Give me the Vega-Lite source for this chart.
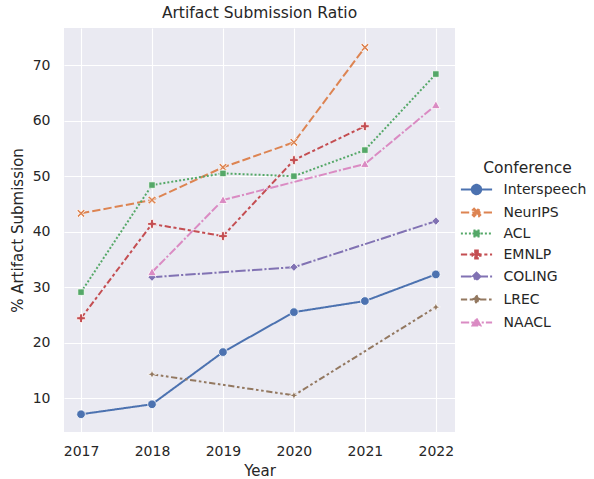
{
  "$schema": "https://vega.github.io/schema/vega-lite/v6.json",
  "width": 391,
  "height": 404,
  "autosize": "none",
  "padding": {"left": 64, "top": 28, "right": 139, "bottom": 47},
  "background": "white",
  "title": {"text": "Artifact Submission Ratio", "fontSize": 15.5, "fontWeight": "normal", "font": "DejaVu Sans", "color": "#262626", "offset": 7},
  "data": {"values": [
    {"Year": 2017, "Conference": "Interspeech", "Value": 7.1},
    {"Year": 2018, "Conference": "Interspeech", "Value": 8.9},
    {"Year": 2019, "Conference": "Interspeech", "Value": 18.3},
    {"Year": 2020, "Conference": "Interspeech", "Value": 25.5},
    {"Year": 2021, "Conference": "Interspeech", "Value": 27.5},
    {"Year": 2022, "Conference": "Interspeech", "Value": 32.3},
    {"Year": 2017, "Conference": "NeurIPS", "Value": 43.3},
    {"Year": 2018, "Conference": "NeurIPS", "Value": 45.7},
    {"Year": 2019, "Conference": "NeurIPS", "Value": 51.6},
    {"Year": 2020, "Conference": "NeurIPS", "Value": 56.1},
    {"Year": 2021, "Conference": "NeurIPS", "Value": 73.2},
    {"Year": 2017, "Conference": "ACL", "Value": 29.1},
    {"Year": 2018, "Conference": "ACL", "Value": 48.4},
    {"Year": 2019, "Conference": "ACL", "Value": 50.5},
    {"Year": 2020, "Conference": "ACL", "Value": 50.0},
    {"Year": 2021, "Conference": "ACL", "Value": 54.7},
    {"Year": 2022, "Conference": "ACL", "Value": 68.4},
    {"Year": 2017, "Conference": "EMNLP", "Value": 24.4},
    {"Year": 2018, "Conference": "EMNLP", "Value": 41.4},
    {"Year": 2019, "Conference": "EMNLP", "Value": 39.2},
    {"Year": 2020, "Conference": "EMNLP", "Value": 52.9},
    {"Year": 2021, "Conference": "EMNLP", "Value": 59.0},
    {"Year": 2018, "Conference": "COLING", "Value": 31.8},
    {"Year": 2020, "Conference": "COLING", "Value": 33.6},
    {"Year": 2022, "Conference": "COLING", "Value": 41.9},
    {"Year": 2018, "Conference": "LREC", "Value": 14.3},
    {"Year": 2020, "Conference": "LREC", "Value": 10.5},
    {"Year": 2022, "Conference": "LREC", "Value": 26.4},
    {"Year": 2018, "Conference": "NAACL", "Value": 32.7},
    {"Year": 2019, "Conference": "NAACL", "Value": 45.7},
    {"Year": 2021, "Conference": "NAACL", "Value": 52.2},
    {"Year": 2022, "Conference": "NAACL", "Value": 62.8}
  ]},
  "encoding": {
    "x": {"field": "Year", "type": "quantitative", "title": "Year",
      "scale": {"domain": [2016.76, 2022.27], "nice": false, "zero": false},
      "axis": {"values": [2017, 2018, 2019, 2020, 2021, 2022], "format": "d", "labelPadding": 12, "titlePadding": 5}},
    "y": {"field": "Value", "type": "quantitative", "title": "% Artifact Submission",
      "scale": {"domain": [3.9, 76.7], "nice": false, "zero": false},
      "axis": {"values": [10, 20, 30, 40, 50, 60, 70], "labelPadding": 14, "titlePadding": 7}},
    "color": {"field": "Conference", "type": "nominal", "title": "Conference",
      "scale": {"domain": ["Interspeech", "NeurIPS", "ACL", "EMNLP", "COLING", "LREC", "NAACL"],
                "range": ["#4c72b0", "#dd8452", "#55a868", "#c44e52", "#8172b3", "#937860", "#da8bc3"]},
      "legend": {
        "orient": "none", "legendX": 405.5, "legendY": 133,
        "symbolSize": 144, "labelOffset": 20, "rowPadding": 6, "titlePadding": 6, "titleAnchor": "middle",
        "encoding": {"symbols": {
          "shape": {"value": {"expr": "datum.value == 'Interspeech' ? 'M-2.6,0H2.6M-0.78,0A0.78,0.78,0,1,0,0.78,0A0.78,0.78,0,1,0,-0.78,0Z' : datum.value == 'NeurIPS' ? 'M-2.6,0H2.6M-0.62,-0.4L-0.4,-0.62L0,-0.22L0.4,-0.62L0.62,-0.4L0.22,0L0.62,0.4L0.4,0.62L0,0.22L-0.4,0.62L-0.62,0.4L-0.22,0Z' : datum.value == 'ACL' ? 'M-2.6,0H2.6M-0.5,-0.5H0.5V0.5H-0.5Z' : datum.value == 'EMNLP' ? 'M-2.6,0H2.6M-0.22,-0.66H0.22V-0.22H0.66V0.22H0.22V0.66H-0.22V0.22H-0.66V-0.22H-0.22Z' : datum.value == 'COLING' ? 'M-2.6,0H2.6M0,-0.66L0.66,0L0,0.66L-0.66,0Z' : datum.value == 'LREC' ? 'M-2.6,0H2.6M0,-0.72L0.2,-0.2L0.72,0L0.2,0.2L0,0.72L-0.2,0.2L-0.72,0L-0.2,-0.2Z' : 'M-2.6,0H2.6M0,-0.66L0.66,0.52L-0.66,0.52Z'"}},
          "strokeDash": {"value": {"expr": "datum.value == 'Interspeech' ? [1,0] : datum.value == 'NeurIPS' ? [8.3,3.1] : datum.value == 'ACL' ? [2,2] : datum.value == 'EMNLP' ? [6.25,2.6,3.1,2.6] : datum.value == 'COLING' ? [10.4,2.1,2.1,2.1] : datum.value == 'LREC' ? [6.25,2.6,2.6,2.6,2.6,2.6] : [8.3,2.1,8.3,2.1,2.1,2.1]"}},
          "fill": {"value": {"expr": "scale('color', datum.value)"}},
          "strokeWidth": {"value": 2},
          "opacity": {"value": 1}
        }}
      }}
  },
  "layer": [
    {
      "mark": {"type": "line", "strokeWidth": 2},
      "encoding": {
        "strokeDash": {"field": "Conference", "type": "nominal", "legend": null,
          "scale": {"range": [[2, 2], [10.4, 2.1, 2.1, 2.1], [6.25, 2.6, 3.1, 2.6], [1, 0], [6.25, 2.6, 2.6, 2.6, 2.6, 2.6], [8.3, 2.1, 8.3, 2.1, 2.1, 2.1], [8.3, 3.1]]}}
      }
    },
    {
      "mark": {"type": "point", "filled": true, "size": 75, "stroke": "white", "strokeWidth": 0.8, "opacity": 1},
      "encoding": {
        "shape": {"field": "Conference", "type": "nominal", "legend": null,
          "scale": {"range": [
              "M-0.75,-0.75H0.75V0.75H-0.75Z",
              "M0,-0.95L0.95,0L0,0.95L-0.95,0Z",
              "M-0.34,-1H0.34V-0.34H1V0.34H0.34V1H-0.34V0.34H-1V-0.34H-0.34Z",
              "circle",
              "M0,-1.05L0.28,-0.28L1.05,0L0.28,0.28L0,1.05L-0.28,0.28L-1.05,0L-0.28,-0.28Z",
              "M0,-1L1,0.8L-1,0.8Z",
              "M-0.95,-0.6L-0.6,-0.95L0,-0.35L0.6,-0.95L0.95,-0.6L0.35,0L0.95,0.6L0.6,0.95L0,0.35L-0.6,0.95L-0.95,0.6L-0.35,0Z"]}},
        "stroke": {"value": "white"}
      }
    }
  ],
  "config": {
    "font": "DejaVu Sans",
    "view": {"fill": "#EAEAF2", "stroke": null},
    "axis": {"domain": false, "ticks": false, "tickSize": 0, "grid": true, "gridColor": "#ffffff", "gridWidth": 1.1, "gridOpacity": 1,
      "labelFont": "DejaVu Sans", "labelFontSize": 14, "labelColor": "#262626",
      "titleFont": "DejaVu Sans", "titleFontSize": 15, "titleFontWeight": "normal", "titleColor": "#262626"},
    "legend": {"titleFont": "DejaVu Sans", "titleFontSize": 15.5, "titleFontWeight": "normal", "titleColor": "#262626",
      "labelFont": "DejaVu Sans", "labelFontSize": 14, "labelColor": "#262626", "padding": 0}
  }
}
